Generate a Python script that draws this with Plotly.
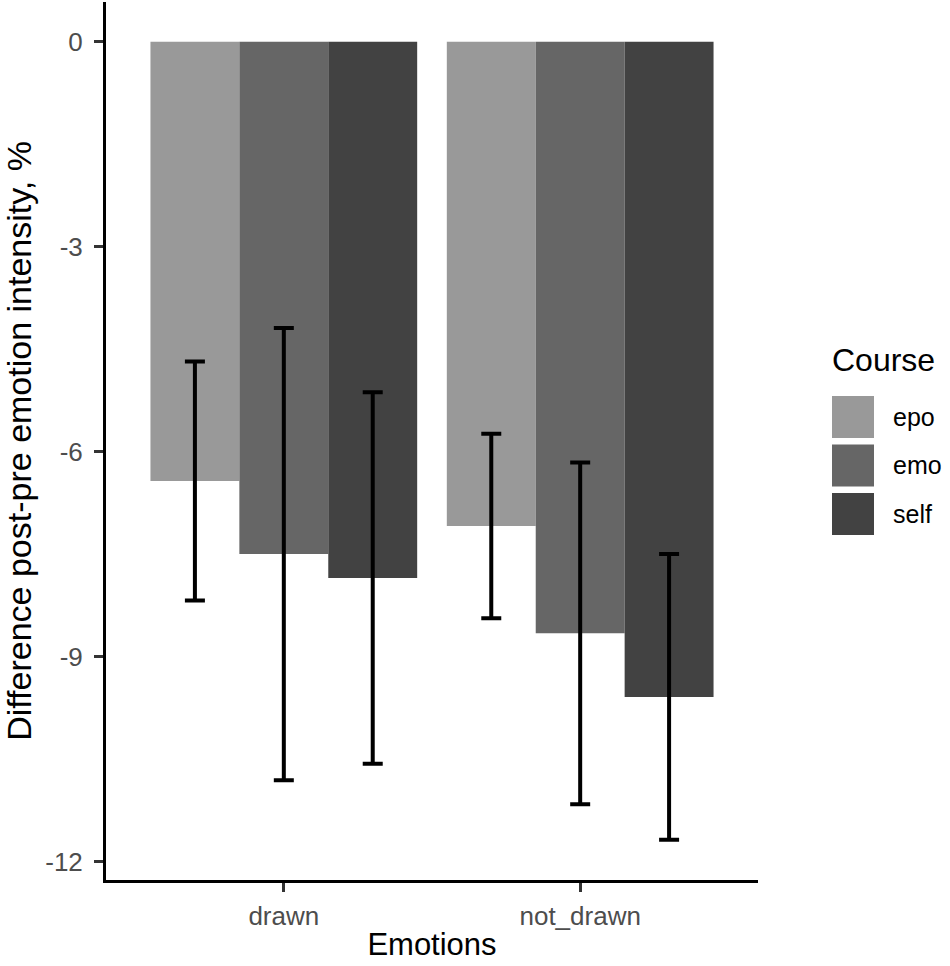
import plotly.graph_objects as go

# valores
emotions = ['drawn', 'not_drawn']
courses = ['epo', 'emo', 'self']
course_colors = ['#999999', '#666666', '#424242']

mean_epo = [-6.43, -7.09]
mean_emo = [-7.50, -8.66]
mean_self = [-7.85, -9.59]

err_epo = [1.75, 1.35]
err_emo = [3.31, 2.50]
err_self = [2.72, 2.09]

y_ticks = [0, -3, -6, -9, -12]

means = [mean_epo, mean_emo, mean_self]
errs = [err_epo, err_emo, err_self]

# área do gráfico em pixels (referência)
PX_L, PX_R, PX_T, PX_B = 106, 758, 2, 880
W, H = 950, 966


def px_x(x):
    return (x - PX_L) / (PX_R - PX_L)


def px_y(y):
    return (PX_B - y) / (PX_B - PX_T)


fig = go.Figure()
for nome, cor, m, e in zip(courses, course_colors, means, errs):
    fig.add_trace(go.Bar(
        x=emotions, y=m, name=nome,
        marker=dict(color=cor, line=dict(width=0)),
        error_y=dict(type='data', array=e, color='black', thickness=4, width=10),
        showlegend=False,
    ))

fig.update_layout(
    width=W, height=H,
    barmode='group', bargap=0.1, bargroupgap=0,
    plot_bgcolor='white', paper_bgcolor='white',
    font=dict(family='Arial, Liberation Sans, sans-serif', color='black'),
    margin=dict(l=PX_L, r=W - PX_R, t=PX_T, b=H - PX_B),
    xaxis=dict(
        range=[-0.6, 1.6], showline=True, linecolor='black', linewidth=3,
        ticks='outside', ticklen=9, tickwidth=3, tickcolor='#333333',
        tickfont=dict(size=26, color='#4d4d4d'), ticklabelstandoff=2,
        title=dict(text='Emotions', font=dict(size=31), standoff=4),
        showgrid=False, zeroline=False,
    ),
    yaxis=dict(
        range=[-12.27, 0.58], tickvals=y_ticks, ticktext=[str(v) for v in y_ticks],
        showline=True, linecolor='black', linewidth=3,
        ticks='outside', ticklen=9, tickwidth=3, tickcolor='#333333',
        tickfont=dict(size=26, color='#4d4d4d'), ticklabelstandoff=6,
        title=dict(text='Difference post-pre emotion intensity, %', font=dict(size=34), standoff=6),
        showgrid=False, zeroline=False,
    ),
)

# legenda desenhada à mão para ter os quadrados grandes do ggplot
fig.add_annotation(x=px_x(830), y=px_y(360), xref='paper', yref='paper', text='Course',
                   showarrow=False, xanchor='left', yanchor='middle',
                   font=dict(size=32, color='black'))
for i, (nome, cor) in enumerate(zip(courses, course_colors)):
    yc = 417 + i * 48.5
    fig.add_shape(type='rect', xref='paper', yref='paper',
                  x0=px_x(832), x1=px_x(874), y0=px_y(yc + 21), y1=px_y(yc - 21),
                  fillcolor=cor, line=dict(width=0))
    fig.add_annotation(x=px_x(891), y=px_y(yc), xref='paper', yref='paper',
                       text=nome, showarrow=False, xanchor='left', yanchor='middle',
                       font=dict(size=25, color='black'))

fig.write_html("out.html", config={'displayModeBar': False},
               post_script="document.body.style.margin='0';")
